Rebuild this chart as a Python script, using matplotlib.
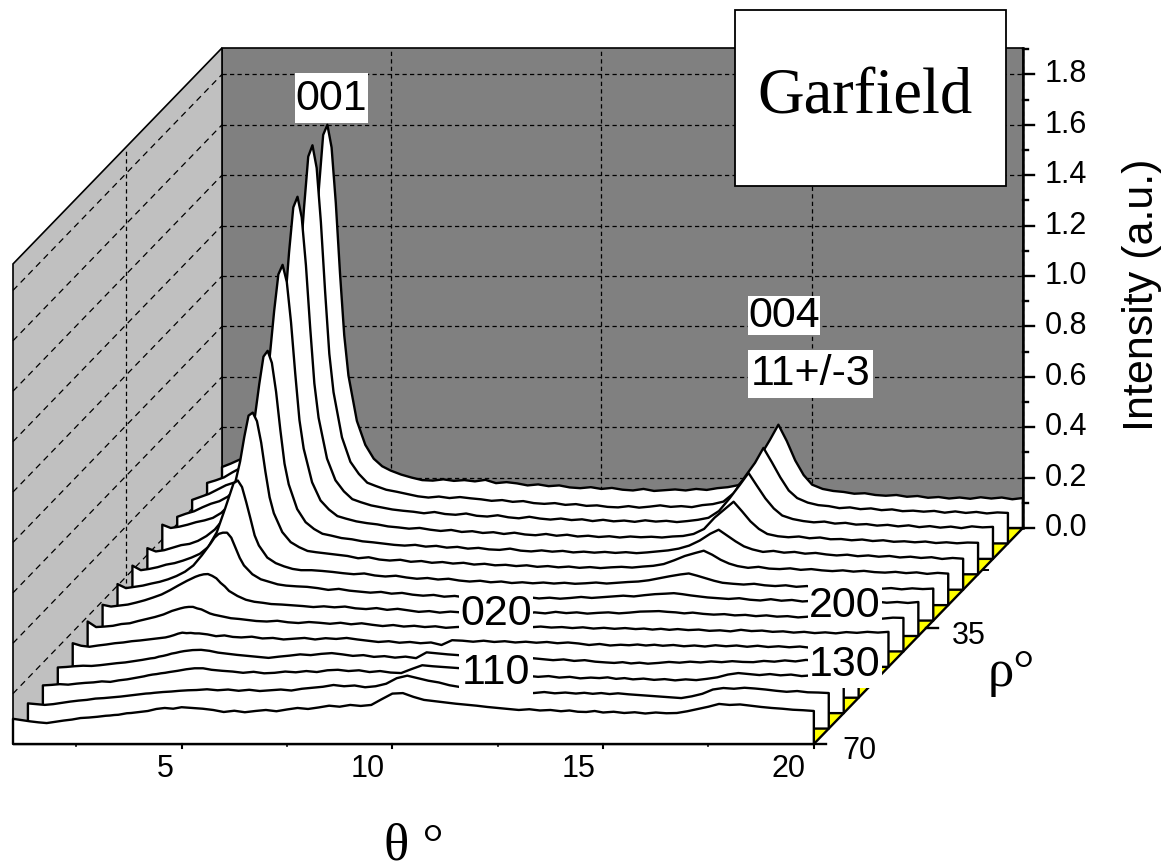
import numpy as np
import matplotlib
matplotlib.use('Agg')
import matplotlib.pyplot as plt
from matplotlib.patches import Rectangle
from matplotlib.transforms import Affine2D

plt.rcParams['font.family'] = ['Liberation Sans', 'DejaVu Sans']

theta = [1.0, 1.2, 1.4, 1.6, 1.8, 2.0, 2.2, 2.4, 2.6, 2.8, 3.0, 3.2,
         3.3, 3.4, 3.5, 3.6, 3.7, 3.8, 3.9, 4.0,
         4.2, 4.4, 4.6, 4.8, 5.0,
         5.25, 5.5, 5.75, 6.0, 6.25, 6.5, 6.75, 7.0, 7.25, 7.5, 7.75, 8.0,
         8.25, 8.5, 8.75, 9.0, 9.25, 9.5, 9.75, 10.0, 10.25, 10.5, 10.75, 11.0,
         11.25, 11.5, 11.75, 12.0, 12.25, 12.5, 12.75, 13.0, 13.25, 13.5, 13.75, 14.0,
         14.2, 14.4, 14.6, 14.8, 15.0,
         15.25, 15.5, 15.75, 16.0, 16.25, 16.5, 16.75, 17.0, 17.25, 17.5,
         17.75, 18.0, 18.25, 18.5, 18.75, 19.0, 19.25, 19.5, 19.75, 20.0]

# position of each curve on the depth axis, back to front
rho = [5.0, 9.64, 14.29, 18.93, 23.57, 28.21, 32.86, 37.5, 42.14, 46.79, 51.43, 56.07, 60.71, 65.36, 70.0]

# intensity x 1000
c00 = [242, 255, 270, 280, 295, 310, 340, 385, 450, 550, 760, 1110,
       1350, 1560, 1600, 1510, 1290, 1010, 765, 605,
       425, 330, 275, 245, 228,
       212, 200, 190, 188, 193, 187, 190, 185, 191, 178, 182, 177,
       169, 173, 166, 169, 161, 158, 162, 155, 159, 152, 149, 155,
       147, 150, 153, 149, 155, 151, 158, 162, 170, 210, 280, 350,
       410, 345, 268, 210, 172,
       155, 147, 143, 136, 138, 131, 128, 131, 124, 127,
       120, 123, 117, 121, 116, 122, 117, 121, 114, 119]
c05 = [240, 250, 262, 282, 300, 315, 338, 380, 445, 545, 750, 1097,
       1332, 1535, 1580, 1490, 1275, 1000, 752, 600,
       421, 324, 276, 241, 228,
       213, 205, 196, 187, 182, 186, 180, 184, 179, 175, 169, 172,
       165, 168, 160, 157, 160, 153, 156, 149, 151, 145, 143, 148,
       142, 146, 151, 145, 148, 144, 152, 156, 166, 200, 262, 320,
       379, 322, 262, 210, 180,
       162, 152, 148, 140, 143, 136, 139, 132, 135, 128,
       130, 126, 129, 122, 127, 121, 125, 119, 123, 121]
c10 = [234, 246, 258, 275, 292, 303, 325, 365, 425, 512, 695, 1003,
       1217, 1395, 1437, 1355, 1165, 919, 696, 560,
       398, 312, 268, 237, 225,
       212, 204, 196, 191, 187, 181, 186, 178, 175, 180, 171, 168,
       173, 165, 161, 167, 160, 156, 160, 154, 157, 150, 155, 149,
       152, 147, 153, 148, 151, 146, 150, 155, 163, 190, 240, 295,
       341, 290, 240, 200, 172,
       158, 150, 145, 148, 140, 143, 136, 138, 132, 135,
       129, 133, 126, 130, 124, 128, 122, 129, 125, 127]
c15 = [228, 240, 250, 266, 280, 290, 308, 340, 388, 460, 615, 872,
       1045, 1190, 1228, 1160, 1000, 797, 612, 499,
       365, 293, 257, 231, 221,
       210, 203, 198, 190, 186, 181, 184, 177, 172, 176, 168, 171,
       164, 167, 160, 165, 158, 155, 160, 153, 157, 150, 153, 148,
       151, 146, 150, 147, 149, 146, 150, 152, 160, 180, 225, 260,
       288, 250, 210, 180, 160,
       151, 147, 150, 143, 146, 139, 140, 135, 138, 132,
       135, 129, 131, 127, 130, 124, 127, 123, 126, 125]
c20 = [258, 245, 250, 258, 268, 275, 285, 305, 338, 390, 500, 690,
       815, 925, 948, 900, 785, 635, 500, 418,
       320, 268, 241, 222, 215,
       205, 200, 192, 188, 183, 178, 175, 178, 171, 174, 167, 170,
       163, 166, 160, 158, 163, 155, 152, 156, 151, 154, 148, 151,
       147, 150, 146, 149, 145, 148, 152, 156, 163, 175, 195, 222,
       238, 215, 192, 172, 160,
       150, 154, 147, 150, 143, 146, 140, 136, 139, 133,
       136, 131, 134, 128, 131, 126, 129, 122, 126, 123]
c25 = [226, 213, 218, 228, 238, 243, 255, 274, 300, 340, 425, 570,
       668, 752, 764, 730, 645, 530, 428, 365,
       290, 250, 230, 215, 210,
       205, 200, 195, 186, 190, 181, 177, 180, 172, 175, 168, 171,
       165, 168, 161, 164, 158, 160, 155, 158, 152, 155, 150, 153,
       148, 151, 147, 150, 152, 149, 153, 156, 163, 178, 195, 207,
       216, 200, 180, 165, 155,
       148, 152, 145, 143, 146, 140, 143, 138, 135, 138,
       133, 136, 131, 129, 132, 127, 130, 124, 128, 125]
c30 = [218, 200, 205, 212, 222, 228, 238, 250, 265, 292, 350, 445,
       495, 545, 556, 530, 470, 405, 338, 298,
       250, 228, 215, 205, 200,
       200, 197, 193, 188, 184, 187, 179, 175, 178, 171, 166, 169,
       163, 166, 159, 155, 158, 152, 155, 149, 152, 148, 151, 147,
       150, 146, 148, 151, 147, 150, 153, 155, 160, 168, 176, 183,
       187, 178, 168, 158, 150,
       146, 143, 146, 140, 137, 140, 134, 137, 132, 135,
       130, 133, 128, 131, 126, 129, 124, 128, 125, 127]
c35 = [206, 190, 195, 200, 208, 215, 225, 238, 255, 280, 320, 365,
       390, 405, 410, 410, 390, 350, 310, 280,
       245, 225, 215, 205, 200,
       197, 195, 190, 183, 187, 180, 176, 172, 175, 168, 171, 164,
       160, 163, 156, 159, 153, 156, 150, 153, 155, 150, 154, 149,
       152, 148, 151, 155, 151, 154, 157, 160, 157, 162, 166, 168,
       170, 166, 161, 157, 153,
       150, 147, 150, 144, 141, 146, 140, 143, 137, 140,
       135, 138, 133, 136, 131, 137, 132, 135, 131, 135]
c40 = [185, 178, 182, 186, 194, 203, 214, 226, 243, 262, 280, 296,
       302, 306, 307, 300, 290, 272, 258, 240,
       220, 205, 197, 193, 188,
       186, 183, 180, 176, 179, 175, 178, 171, 168, 172, 165, 169,
       163, 157, 160, 154, 158, 155, 151, 156, 153, 149, 154, 150,
       155, 151, 157, 152, 155, 150, 153, 155, 151, 154, 158, 159,
       160, 157, 155, 151, 154,
       149, 146, 148, 143, 145, 140, 143, 138, 140, 135,
       138, 132, 136, 130, 134, 131, 135, 130, 134, 133]
c45 = [180, 158, 160, 163, 170, 173, 182, 190, 198, 208, 222, 232,
       236, 238, 238, 232, 228, 220, 212, 207,
       200, 193, 190, 186, 182,
       180, 183, 177, 174, 178, 175, 171, 175, 169, 173, 167, 162,
       166, 160, 163, 158, 161, 155, 158, 160, 157, 160, 155, 159,
       154, 157, 160, 156, 158, 154, 157, 152, 155, 151, 154, 150,
       152, 148, 151, 147, 150,
       146, 148, 143, 145, 141, 147, 142, 144, 139, 141,
       136, 139, 134, 137, 133, 138, 135, 139, 136, 139]
c50 = [155, 145, 141, 146, 150, 155, 158, 163, 166, 170, 174, 178,
       182, 187, 193, 197, 195, 196, 194, 194,
       190, 183, 186, 180, 178,
       181, 174, 176, 170, 173, 176, 170, 175, 172, 176, 170, 165,
       160, 163, 157, 160, 155, 158, 148, 167, 165, 161, 165, 160,
       163, 158, 161, 157, 160, 155, 158, 154, 148, 152, 146, 149,
       147, 150, 146, 149, 145,
       148, 143, 146, 142, 147, 143, 146, 141, 145, 140,
       143, 139, 142, 137, 140, 136, 139, 141, 143, 145]
c55 = [120, 122, 125, 127, 126, 129, 133, 137, 140, 145, 150, 156,
       158, 163, 166, 170, 175, 178, 182, 185,
       189, 190, 186, 179, 175,
       170, 166, 162, 158, 163, 167, 172, 169, 174, 177, 172, 166,
       169, 162, 165, 159, 163, 157, 180, 176, 172, 169, 166, 163,
       166, 161, 163, 158, 157, 153, 149, 152, 146, 149, 143, 140,
       138, 141, 136, 139, 135,
       138, 142, 139, 143, 140, 144, 141, 145, 142, 141,
       146, 143, 148, 144, 150, 147, 152, 149, 155, 157]
c60 = [110, 112, 115, 113, 117, 120, 122, 126, 124, 130, 134, 140,
       143, 146, 150, 153, 155, 158, 160, 163,
       168, 174, 178, 178, 172,
       168, 165, 160, 164, 158, 160, 165, 162, 167, 163, 170, 172,
       167, 170, 163, 167, 161, 159, 175, 190, 186, 183, 180, 177,
       174, 170, 165, 160, 152, 148, 144, 147, 141, 144, 138, 141,
       139, 142, 136, 139, 134,
       137, 132, 135, 130, 134, 131, 136, 142, 153, 159,
       155, 151, 155, 150, 153, 147, 150, 145, 146, 143]
c65 = [100, 97, 94, 97, 102, 107, 111, 114, 119, 121, 124, 127,
       129, 131, 133, 135, 137, 139, 140, 142,
       145, 147, 150, 152, 153,
       156, 152, 155, 150, 154, 149, 152, 155, 151, 158, 162, 166,
       173, 168, 171, 164, 168, 178, 200, 210, 200, 190, 183, 172,
       165, 158, 161, 154, 150, 147, 143, 141, 145, 140, 143, 139,
       142, 138, 141, 137, 140,
       136, 133, 130, 127, 124, 121, 128, 138, 155, 161,
       158, 162, 159, 155, 150, 146, 149, 144, 143, 141]
c70 = [100, 95, 90, 86, 83, 88, 93, 97, 103, 105, 108, 112,
       113, 115, 116, 119, 122, 123, 125, 127,
       131, 139, 143, 140, 146,
       143, 140, 135, 127, 132, 126, 131, 135, 130, 137, 143, 139,
       145, 152, 148, 155, 151, 155, 178, 200, 202, 187, 175, 170,
       165, 160, 156, 152, 147, 143, 139, 135, 138, 133, 135, 130,
       133, 128, 127, 131, 125,
       128, 123, 126, 121, 125, 122, 123, 130, 139, 148,
       159, 155, 157, 152, 147, 143, 140, 136, 134, 131]
curves = [c00, c05, c10, c15, c20, c25, c30, c35, c40, c45, c50, c55, c60, c65, c70]

theta_major = [5, 10, 15, 20]
theta_minor = [2.5, 7.5, 12.5, 17.5]
int_major = [0.0, 0.2, 0.4, 0.6, 0.8, 1.0, 1.2, 1.4, 1.6, 1.8]
int_minor = [0.1, 0.3, 0.5, 0.7, 0.9, 1.1, 1.3, 1.5, 1.7, 1.9]
rho_major = [35, 70]
rho_minor = [17.5, 52.5]

th0, th1 = 1, 20
i0, i1 = 0, 1.905
r_back, r_front = 5, 70
# how far the back plane sits from the front plane, in axis units
shift_th = 209 / 42.15
shift_i = 216 / 252


def proj(th, r, i):
    d = (r_front - np.asarray(r, dtype=float)) / (r_front - r_back)
    return np.asarray(th, dtype=float) + d * shift_th, np.asarray(i, dtype=float) + d * shift_i


W, H = 1171, 864
fig = plt.figure(figsize=(W / 100, H / 100), dpi=100)
ax = fig.add_axes([0, 0, 1, 1])
ax.set_xlim(th0 - 13 / 42.15, th0 + (W - 13) / 42.15)
ax.set_ylim((744 - H) / 252, 744 / 252)
ax.axis('off')
# pixel positions from the top left, for labels
pix = Affine2D().scale(1, -1).translate(0, H)

dash = (0, (3.4, 2.6))
dash_side = (0, (5.0, 3.8))


def seg(a, b, **kw):
    ax.plot([a[0], b[0]], [a[1], b[1]], **kw)


# walls and floor
bx, by = zip(proj(th0, r_back, i0), proj(th1, r_back, i0), proj(th1, r_back, i1), proj(th0, r_back, i1))
ax.fill(bx, by, fc='#808080', ec='k', lw=1.2, zorder=1)
sx, sy = zip(proj(th0, r_front, i0), proj(th0, r_back, i0), proj(th0, r_back, i1), proj(th0, r_front, i1))
ax.fill(sx, sy, fc='#c0c0c0', ec='k', lw=1.2, zorder=1)
fx, fy = zip(proj(th0, r_front, i0), proj(th1, r_front, i0), proj(th1, r_back, i0), proj(th0, r_back, i0))
ax.fill(fx, fy, fc='#ffff00', ec='k', lw=1.7, zorder=1)

# dashed grid on the walls
for v in int_major[1:]:
    seg(proj(th0, r_front, v), proj(th0, r_back, v), color='k', lw=0.9, ls=dash_side, zorder=2)
    seg(proj(th0, r_back, v), proj(th1, r_back, v), color='k', lw=0.9, ls=dash, zorder=2)
for v in theta_major:
    seg(proj(v, r_back, i0), proj(v, r_back, i1), color='k', lw=0.9, ls=dash, zorder=2)
seg(proj(th0, rho_major[0], i0), proj(th0, rho_major[0], i1), color='k', lw=0.9, ls=dash, zorder=2)

# curves, back one first so the nearer ones cover it
for k, (r, c) in enumerate(zip(rho, curves)):
    xs = list(theta) + [th1, th0]
    ys = [v / 1000 for v in c] + [i0, i0]
    px, py = proj(xs, r, ys)
    ax.fill(px, py, fc='w', ec='k', lw=1.7, joinstyle='round', zorder=3 + k * 0.01)

# intensity axis on the right
seg(proj(th1, r_back, i0), proj(th1, r_back, i1), color='k', lw=1.8, zorder=4)
unit_x = 1 / 42.15
for v in int_major:
    x, y = proj(th1, r_back, v)
    ax.plot([x, x + 11 * unit_x], [y, y], color='k', lw=1.7, zorder=4)
    tx, ty = ax.transData.transform((x, y))
    ax.text(1045, H - ty, f'{v:.1f}', transform=pix, fontsize=22, ha='left', va='center', zorder=6)
for v in int_minor:
    x, y = proj(th1, r_back, v)
    ax.plot([x, x + 5 * unit_x], [y, y], color='k', lw=1.7, zorder=4)

# theta axis ticks
unit_y = 1 / 252
for v in theta_major:
    x, y = proj(v, r_front, i0)
    ax.plot([x, x], [y, y - 4 * unit_y], color='k', lw=1.5, zorder=4)
    tx, ty = ax.transData.transform((x, y))
    ax.text(tx - 8, 769, str(v), transform=pix, fontsize=22, ha='right', va='center', zorder=6)
for v in theta_minor:
    x, y = proj(v, r_front, i0)
    ax.plot([x, x], [y, y - 2 * unit_y], color='k', lw=1.2, zorder=4)

# rho axis ticks
for v in rho_major:
    x, y = proj(th1, v, i0)
    ax.plot([x, x + 12 * unit_x], [y, y], color='k', lw=1.7, zorder=4)
for v in rho_minor:
    x, y = proj(th1, v, i0)
    ax.plot([x, x + 5 * unit_x], [y, y], color='k', lw=1.4, zorder=4)
ax.text(969, 636, '35', transform=pix, fontsize=22, ha='center', va='center', zorder=6)
ax.text(859, 751, '70', transform=pix, fontsize=22, ha='center', va='center', zorder=6)

# peak labels on white patches: text, centre, box
peak_labels = ['001', '004', '11+/-3', '020', '110', '200', '130']
label_centres = [(331, 99), (784, 316), (811, 374), (496, 614), (496, 673), (845, 606), (845, 665)]
label_boxes = [(295, 73, 368, 123), (748, 296, 820, 335), (748, 350, 873, 398), (459, 588, 533, 635),
               (459, 648, 533, 697), (808, 583, 882, 625), (808, 640, 882, 688)]
for s, (cx, cy), (x0, y0, x1, y1) in zip(peak_labels, label_centres, label_boxes):
    ax.add_patch(Rectangle((x0, y0), x1 - x0, y1 - y0, fc='w', ec='none', transform=pix, zorder=5))
    ax.text(cx, cy, s, transform=pix, fontsize=31, ha='center', va='center', zorder=6)

# sample name box
ax.add_patch(Rectangle((735, 10), 271, 176, fc='w', ec='k', lw=1.3, transform=pix, zorder=5))
ax.text(757, 113, 'Garfield', transform=pix, family='Liberation Serif', fontsize=46.5,
        ha='left', va='baseline', zorder=6)

# axis titles
ax.text(1142, 295, 'Intensity (a.u.)', transform=pix, fontsize=31, rotation=90,
        ha='center', va='center', zorder=6)
ax.text(384, 859, '\u03b8 \u00b0', transform=pix, family='Liberation Serif', fontsize=38,
        ha='left', va='baseline', zorder=6)
ax.text(988, 686, '\u03c1\u00b0', transform=pix, family='Liberation Serif', fontsize=38,
        ha='left', va='baseline', zorder=6)

fig.savefig('out.png', dpi=100)
